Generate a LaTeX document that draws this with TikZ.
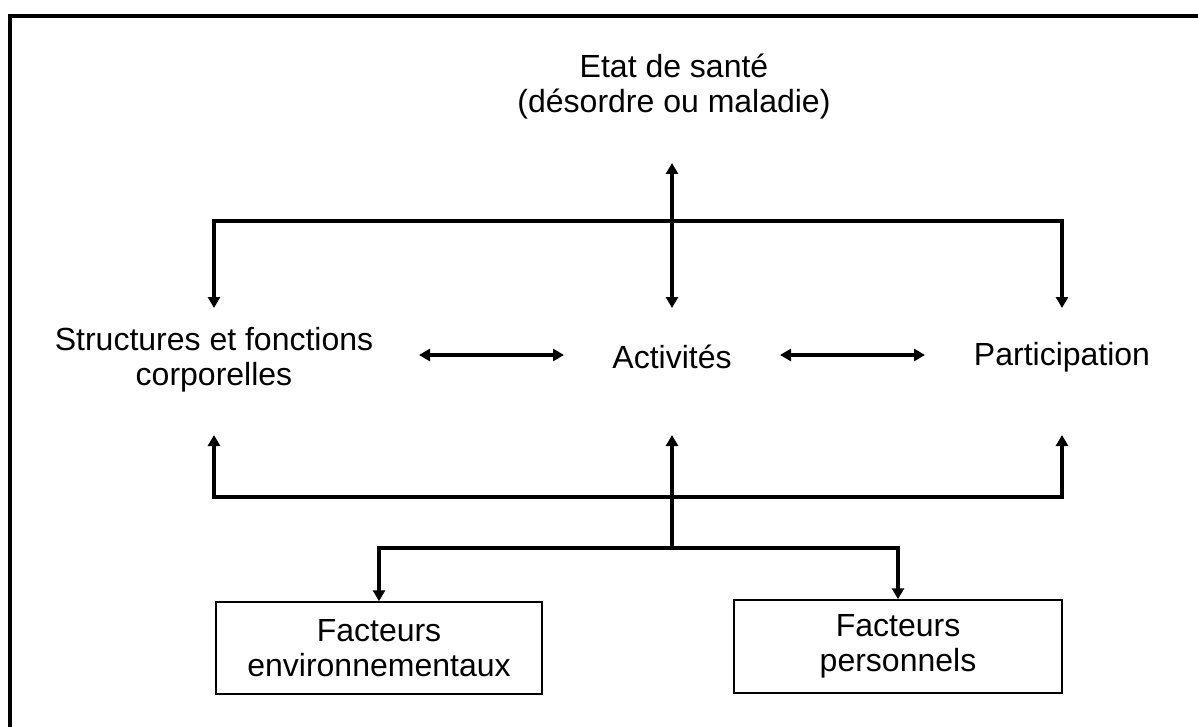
\documentclass[tikz,border=0pt]{standalone}
\usepackage{fontspec}
\setmainfont{Liberation Sans}
\usetikzlibrary{arrows.meta}
\tikzset{
  lbl/.style={align=center, font=\fontsize{32}{35}\selectfont, inner sep=0pt},
  fbox/.style={draw, line width=1.5pt, align=center, font=\fontsize{32}{35}\selectfont, inner sep=0pt},
  conn/.style={line width=3.5pt, arrows={Triangle[length=11pt,width=12pt]-Triangle[length=11pt,width=12pt]}},
  connend/.style={line width=3.5pt, -{Triangle[length=11pt,width=12pt]}},
  frame/.style={line width=4pt}
}
\begin{document}
\begin{tikzpicture}[x=1pt,y=-1pt]
\useasboundingbox (0,0) rectangle (1198,727);
\draw[frame] (10,729) -- (10,16) -- (1200,16);
\node[lbl] (etat) at (674,87) {Etat de santé\\(désordre ou maladie)};
\node[lbl] (struct) at (214,360) {Structures et fonctions\\corporelles};
\node[lbl] (act) at (672,357) {Activités};
\node[lbl] (part) at (1062,357) {Participation};
\node[fbox, minimum width=326pt, minimum height=92pt] (fenv) at (379,648) {Facteurs\\environnementaux};
\node[fbox, minimum width=328pt, minimum height=93pt] (fpers) at (898,646.5) {Facteurs\\personnels};
% coordinates
\coordinate (etatTip) at (672,163);
\coordinate (actTop) at (672,308);
\coordinate (structTop) at (214,308);
\coordinate (partTop) at (1062,308);
\coordinate (structBot) at (214,435);
\coordinate (actBot) at (672,435);
\coordinate (partBot) at (1062,435);
\coordinate (topBar) at (672,221);
\coordinate (botBar) at (672,497);
\coordinate (forkBar) at (672,548);
\coordinate (sA) at (419,355);
\coordinate (aS) at (564,355);
\coordinate (aP) at (780,355);
\coordinate (pA) at (925,355);
% connectors
\draw[conn] (etatTip) -- (actTop);
\draw[conn] (structTop) |- (topBar) -| (partTop);
\draw[conn] (sA) -- (aS);
\draw[conn] (aP) -- (pA);
\draw[conn] (structBot) |- (botBar) -| (partBot);
\draw[line width=3.5pt] (botBar) -- (forkBar);
\draw[connend] (botBar) -- (actBot);
\draw[conn] (fenv.north) |- (forkBar) -| (fpers.north);
\end{tikzpicture}
\end{document}
